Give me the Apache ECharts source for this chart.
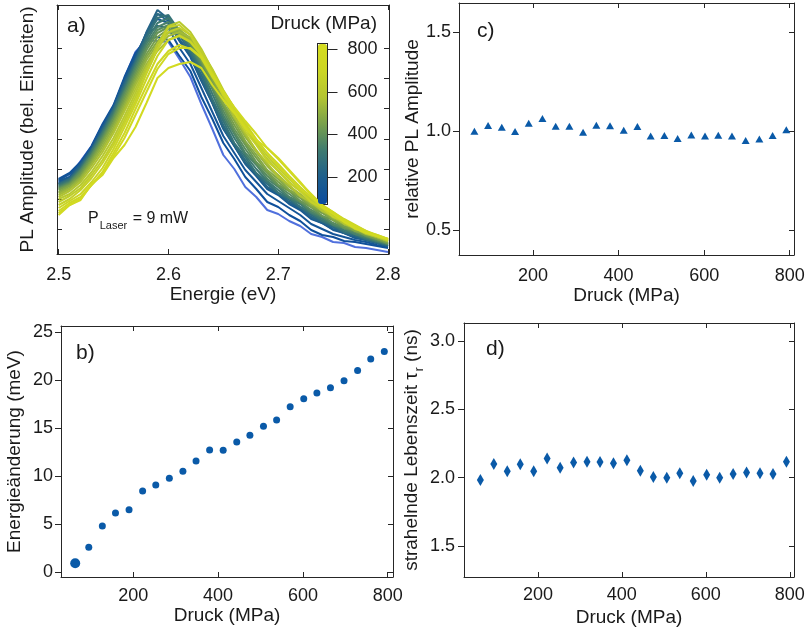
<!DOCTYPE html>
<html><head><meta charset="utf-8">
<script src="https://cdn.jsdelivr.net/npm/echarts@6/dist/echarts.min.js"></script>
<style>html,body{margin:0;padding:0;background:#fff}#c{width:809px;height:630px}</style>
</head><body><div id="c"></div>
<script>
// ---------- Panel a: PL spectra (arbitrary units) ----------
const energies = [2.50,2.51,2.52,2.53,2.54,2.55,2.56,2.57,2.58,2.59,2.60,2.61,2.62,2.63,2.64,2.65,2.66,2.67,2.68,2.69,2.70,2.71,2.72,2.73,2.74,2.75,2.76,2.77,2.78,2.79,2.80];
const spectraPressures = [63,95,127,158,190,222,253,285,317,348,380,412,444,475,507,538,570,602,633,665,697,729,760,792];
const spec063 = [72,77,93,108,129,146,176,202,214,213,212,195,177,150,125,99,85,67,57,44,40,33,28,20,17,12,11,7,6,4,2];
const spec095 = [75,81,92,108,130,149,177,201,215,217,214,198,183,157,135,111,95,77,65,52,47,39,33,24,19,17,13,12,10,8,6];
const spec127 = [74,80,90,107,128,148,175,199,219,228,226,206,190,166,142,118,101,84,72,60,53,46,39,30,25,20,17,14,12,9,7];
const spec158 = [73,77,91,106,127,147,174,197,221,235,231,213,197,173,151,125,108,90,78,65,59,50,44,35,31,24,21,16,14,11,8];
const spec190 = [71,76,90,105,126,146,172,195,221,240,233,214,198,174,151,126,108,91,79,66,60,51,45,36,31,25,21,17,14,11,8];
const spec222 = [70,75,89,104,125,145,171,193,222,244,235,215,200,175,152,126,109,91,80,67,61,52,47,37,32,27,21,18,14,11,8];
const spec253 = [70,75,87,104,123,144,169,193,218,240,237,219,201,179,153,129,110,94,80,70,61,54,47,39,33,28,22,19,15,12,9];
const spec285 = [69,74,86,103,122,143,167,191,216,236,239,223,203,183,155,133,111,97,81,72,61,56,47,41,33,29,22,20,15,12,9];
const spec317 = [68,73,85,102,121,141,165,189,213,231,236,224,206,185,160,136,116,99,85,73,64,56,50,41,35,29,24,20,16,13,10];
const spec348 = [67,72,84,100,119,139,163,187,210,227,232,223,209,187,165,139,120,101,89,75,67,57,52,42,37,29,26,20,17,13,10];
const spec380 = [66,71,83,99,117,137,161,184,207,224,229,224,210,190,166,143,122,105,90,78,68,60,52,44,38,31,26,22,18,14,10];
const spec412 = [65,70,81,97,115,135,158,181,204,221,227,225,211,193,168,147,125,109,92,81,69,63,53,47,38,34,26,24,18,15,11];
const spec444 = [64,69,79,95,113,132,155,178,200,217,225,223,213,194,172,149,129,111,96,82,72,63,56,47,41,34,28,23,19,15,11];
const spec475 = [62,68,77,93,111,130,152,175,197,213,222,221,215,195,175,151,133,113,99,84,75,64,58,48,43,34,30,23,21,16,12];
const spec507 = [61,66,76,91,108,127,149,172,194,210,221,224,216,198,178,155,136,117,102,88,77,67,59,50,44,36,31,25,21,17,13];
const spec538 = [59,65,74,89,105,124,146,169,190,207,218,222,216,200,180,157,139,119,104,89,79,68,60,51,45,37,31,26,21,17,13];
const spec570 = [57,63,72,86,102,121,143,165,187,203,214,219,213,201,179,159,137,121,103,91,77,69,58,52,43,38,30,26,20,17,13];
const spec602 = [55,60,69,82,98,116,138,161,185,210,228,232,222,205,184,162,144,126,110,95,83,72,63,54,46,39,32,27,22,18,14];
const spec633 = [52,58,66,79,94,112,134,157,181,205,222,226,219,203,185,164,146,129,112,98,86,75,65,55,48,40,33,27,22,18,14];
const spec665 = [49,55,64,76,91,109,131,153,181,205,227,229,219,199,181,158,142,123,109,93,83,71,63,52,46,37,33,25,22,18,14];
const spec697 = [46,53,60,72,86,105,127,150,175,198,214,218,212,199,181,163,146,131,115,101,90,78,67,57,49,42,35,29,23,19,15];
const spec729 = [43,51,57,69,82,101,121,145,168,190,203,209,205,196,177,160,143,128,113,101,88,77,65,57,47,41,33,28,22,19,15];
const spec760 = [41,49,55,69,80,98,116,139,162,185,200,206,206,197,179,162,147,133,120,106,95,83,71,60,49,42,34,28,23,18,15];
const spec792 = [39,49,54,70,79,96,109,127,151,176,186,190,192,186,169,154,141,126,114,106,96,84,72,59,47,40,32,26,21,18,15];
const spectra = [spec063,spec095,spec127,spec158,spec190,spec222,spec253,spec285,spec317,spec348,spec380,spec412,
                 spec444,spec475,spec507,spec538,spec570,spec602,spec633,spec665,spec697,spec729,spec760,spec792];
const ticksEnergy = [2.5, 2.6, 2.7, 2.8];
const ticksIntensity = [25, 55, 85, 115, 146, 176, 206];
const ticksColorbar = [200, 400, 600, 800];

// ---------- Panels b, c, d ----------
const pressures = [63,95,127,158,190,222,253,285,317,348,380,412,444,475,507,538,570,602,633,665,697,729,760,792];
const energyShift = [0.93,2.6,4.8,6.16,6.5,8.45,9.07,9.76,10.5,11.56,12.7,12.67,13.54,14.23,15.17,15.82,17.2,18.04,18.63,19.18,19.9,20.98,22.16,22.96];
const relAmplitude = [1.0,1.029,1.02,0.998,1.04,1.064,1.025,1.025,0.995,1.03,1.027,1.005,1.024,0.975,0.978,0.963,0.981,0.975,0.98,0.976,0.953,0.96,0.978,1.007];
const lifetime = [1.983,2.1,2.046,2.098,2.046,2.139,2.073,2.11,2.117,2.115,2.105,2.127,2.051,2.005,2.0,2.032,1.976,2.022,2.0,2.027,2.037,2.032,2.027,2.117];
const ticksPressure = [200, 400, 600, 800];
const ticksShift = [0, 5, 10, 15, 20, 25];
const ticksAmp = [0.5, 1.0, 1.5];
const ticksLife = [1.5, 2.0, 2.5, 3.0];

const CMAP = ['#0b4c9f', '#1e5f8d', '#3e7a70', '#78a04b', '#b3c532', '#ccd625', '#d5dc1f'];
const PMIN = 70, PMAX = 828;
const FONT = 'Liberation Sans';
const TXT = '#1a1a1a';
const LINE = '#262626';
const MARK = '#0a5aa8';

function xAxes(grid, min, max, ticks, o) {
  return [{
    type: 'value', gridIndex: grid, min: min, max: max, position: 'bottom',
    axisLine: {show: true, onZero: false, lineStyle: {color: LINE, width: 1}},
    axisTick: {show: true, inside: true, length: 5, customValues: ticks, lineStyle: {color: LINE}},
    axisLabel: {show: true, customValues: ticks, margin: o.margin, fontSize: 18, fontFamily: FONT, color: TXT, formatter: o.fmt},
    splitLine: {show: false},
    name: o.name, nameLocation: 'middle', nameGap: o.gap,
    nameTextStyle: {fontSize: 19, fontFamily: FONT, color: TXT}
  }, {
    type: 'value', gridIndex: grid, min: min, max: max, position: 'top',
    axisLine: {show: true, onZero: false, lineStyle: {color: LINE, width: 1}},
    axisTick: {show: true, inside: true, length: 5, customValues: ticks, lineStyle: {color: LINE}},
    axisLabel: {show: false}, splitLine: {show: false}
  }];
}
function yAxes(grid, min, max, ticks, o) {
  return [{
    type: 'value', gridIndex: grid, min: min, max: max, position: 'left',
    axisLine: {show: true, onZero: false, lineStyle: {color: LINE, width: 1}},
    axisTick: {show: true, inside: o.inside, length: o.tl, customValues: ticks, lineStyle: {color: LINE}},
    axisLabel: {show: o.labels, customValues: ticks, margin: o.margin, fontSize: 18, fontFamily: FONT, color: TXT, formatter: o.fmt},
    splitLine: {show: false},
    name: o.name, nameLocation: 'middle', nameGap: o.gap, nameRotate: 90,
    nameTextStyle: Object.assign({fontSize: 19, fontFamily: FONT, color: TXT}, o.nts || {})
  }, {
    type: 'value', gridIndex: grid, min: min, max: max, position: 'right',
    axisLine: {show: true, onZero: false, lineStyle: {color: LINE, width: 1}},
    axisTick: {show: true, inside: true, length: 5, customValues: ticks, lineStyle: {color: LINE}},
    axisLabel: {show: false}, splitLine: {show: false}
  }];
}
const f1 = v => v.toFixed(1);
const fi = v => String(v);

const xAxis = [].concat(
  xAxes(0, 2.4985, 2.8009, ticksEnergy, {margin: 12, fmt: f1, name: 'Energie (eV)', gap: 30}),
  xAxes(1, 29.5, 812.5, ticksPressure, {margin: 10, fmt: fi, name: 'Druck (MPa)', gap: 27}),
  xAxes(2, 27, 810, ticksPressure, {margin: 12, fmt: fi, name: 'Druck (MPa)', gap: 31}),
  xAxes(3, 24, 810, ticksPressure, {margin: 9, fmt: fi, name: 'Druck (MPa)', gap: 31}),
  [{type: 'value', gridIndex: 4, min: 0, max: 1, position: 'bottom', axisLine: {show: true, lineStyle: {color: LINE}}, axisTick: {show: false}, axisLabel: {show: false}, splitLine: {show: false}},
   {type: 'value', gridIndex: 4, min: 0, max: 1, position: 'top', axisLine: {show: true, lineStyle: {color: LINE}}, axisTick: {show: false}, axisLabel: {show: false}, splitLine: {show: false}}]
);
const yAxis = [].concat(
  yAxes(0, 0, 249, ticksIntensity, {inside: true, tl: 5, labels: false, margin: 8, fmt: fi, name: 'PL Amplitude (bel. Einheiten)', gap: 20}),
  yAxes(1, -0.5, 25.6, ticksShift, {inside: false, tl: 6, labels: true, margin: 8, fmt: fi, name: 'Energieänderung (meV)', gap: 37}),
  yAxes(2, 0.374, 1.648, ticksAmp, {inside: false, tl: 6, labels: true, margin: 8, fmt: f1, name: 'relative PL Amplitude', gap: 28}),
  yAxes(3, 1.274, 3.13, ticksLife, {inside: false, tl: 6, labels: true, margin: 9, fmt: f1,
    name: '{n|strahelnde Lebenszeit τ}{s|r}{n| (ns)}', gap: 33,
    nts: {rich: {n: {fontSize: 19, fontFamily: FONT, color: TXT, lineHeight: 22, verticalAlign: 'top'},
                 s: {fontSize: 12, fontFamily: FONT, color: TXT, lineHeight: 12, padding: [12, 0, 0, 1], verticalAlign: 'top'}}}}),
  [{type: 'value', gridIndex: 4, min: PMIN, max: PMAX, position: 'right',
    axisLine: {show: true, onZero: false, lineStyle: {color: LINE}},
    axisTick: {show: true, inside: false, length: 10, customValues: ticksColorbar, lineStyle: {color: LINE}},
    axisLabel: {show: true, customValues: ticksColorbar, margin: 20, fontSize: 18, fontFamily: FONT, color: TXT},
    splitLine: {show: false}},
   {type: 'value', gridIndex: 4, min: PMIN, max: PMAX, position: 'left',
    axisLine: {show: true, onZero: false, lineStyle: {color: LINE}},
    axisTick: {show: false}, axisLabel: {show: false}, splitLine: {show: false}}]
);

const series = [];
spectra.forEach((s, k) => {
  const col = echarts.color.lerp((spectraPressures[k] - PMIN) / (PMAX - PMIN), CMAP);
  series.push({
    type: 'line', xAxisIndex: 0, yAxisIndex: 0, showSymbol: false, symbol: 'none',
    data: s.map((v, i) => [energies[i], v]),
    lineStyle: {color: col, width: 2}, itemStyle: {color: col}, silent: true, z: 2
  });
});
series.push({type: 'scatter', xAxisIndex: 2, yAxisIndex: 2, symbol: 'circle',
  symbolSize: (v, p) => p.dataIndex === 0 ? 10 : 7,
  itemStyle: {color: MARK, opacity: 1}, data: pressures.map((p, i) => [p, energyShift[i]])});
series.push({type: 'scatter', xAxisIndex: 4, yAxisIndex: 4, symbol: 'triangle', symbolSize: [8, 7],
  itemStyle: {color: MARK, opacity: 1}, data: pressures.map((p, i) => [p, relAmplitude[i]])});
series.push({type: 'scatter', xAxisIndex: 6, yAxisIndex: 6, symbol: 'diamond', symbolSize: [7, 12],
  itemStyle: {color: MARK, opacity: 1}, data: pressures.map((p, i) => [p, lifetime[i]])});
series.push({type: 'scatter', xAxisIndex: 8, yAxisIndex: 8, data: [], name: 'cbar'});
const cbarIdx = series.length - 1;

const chart = echarts.init(document.getElementById('c'), null, {renderer: 'canvas'});
chart.setOption({
  animation: false,
  backgroundColor: '#ffffff',
  textStyle: {fontFamily: FONT},
  grid: [
    {left: 57, top: 5, width: 332, height: 249},
    {left: 61, top: 326, width: 332, height: 251},
    {left: 459, top: 3, width: 335, height: 252},
    {left: 464, top: 323, width: 330, height: 254},
    {left: 317.5, top: 43.5, width: 10, height: 161}
  ],
  xAxis: xAxis,
  yAxis: yAxis,
  visualMap: [{
    type: 'continuous', show: true, min: PMIN, max: PMAX, seriesIndex: [cbarIdx], dimension: 1,
    orient: 'vertical', left: 318, top: 44, itemWidth: 9, itemHeight: 160, padding: 0,
    calculable: false, hoverLink: false, inRange: {color: CMAP}, textStyle: {color: 'rgba(0,0,0,0)'}
  }],
  title: [
    {text: 'a)', left: 67, top: 16, padding: 0, textStyle: {fontSize: 21, fontWeight: 'normal', fontFamily: FONT, color: TXT}},
    {text: 'b)', left: 76, top: 343, padding: 0, textStyle: {fontSize: 21, fontWeight: 'normal', fontFamily: FONT, color: TXT}},
    {text: 'c)', left: 477, top: 21, padding: 0, textStyle: {fontSize: 21, fontWeight: 'normal', fontFamily: FONT, color: TXT}},
    {text: 'd)', left: 486, top: 339, padding: 0, textStyle: {fontSize: 21, fontWeight: 'normal', fontFamily: FONT, color: TXT}},
    {text: 'Druck (MPa)', right: 432, top: 14, padding: 0, textStyle: {fontSize: 19, fontWeight: 'normal', fontFamily: FONT, color: TXT}},
    {text: '{p|P}{s|Laser}{p| = 9 mW}', left: 88, top: 211, padding: 0,
     textStyle: {fontWeight: 'normal', fontFamily: FONT, color: TXT,
       rich: {p: {fontSize: 16, fontFamily: FONT, color: TXT, lineHeight: 18, verticalAlign: 'top'},
              s: {fontSize: 11, fontFamily: FONT, color: TXT, lineHeight: 11, padding: [9, 1, 0, 1], verticalAlign: 'top'}}}}
  ],
  series: series
});
</script></body></html>
